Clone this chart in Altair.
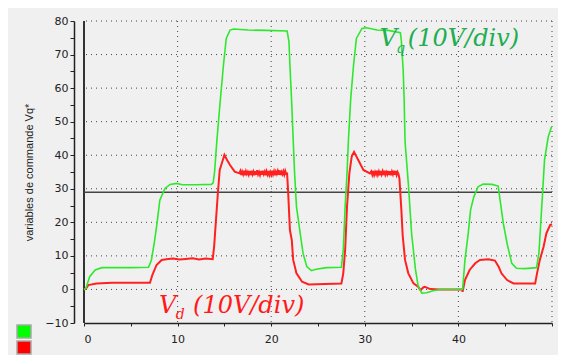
import altair as alt
import pandas as pd
import numpy as np

# ---- Vq (green) : time (s) and value
vq_t = [0.0, 0.2, 0.6, 1.2, 1.9, 3.0, 5.0, 6.9, 7.2, 7.5, 7.8, 8.1, 8.65, 9.2, 9.9, 10.5, 12.0, 13.6,
        13.8, 13.95, 14.07, 14.2, 14.55, 14.9, 15.2, 15.6, 16.0, 17.5, 19.5, 21.7, 21.9, 22.0, 22.2,
        22.35, 22.5, 22.7, 23.1, 23.4, 23.8, 24.3, 24.8, 25.9, 27.5, 27.7, 27.9, 28.1, 28.25, 28.5,
        28.8, 29.1, 29.7, 30.2, 31.3, 32.5, 33.8, 33.9, 34.1, 34.2, 34.3, 34.65, 35.0, 35.4, 35.7,
        36.1, 36.6, 37.3, 38.0, 40.45, 40.7, 41.05, 41.3, 41.65, 42.1, 42.65, 43.6, 44.25, 44.45,
        44.8, 45.2, 45.7, 46.2, 47.1, 48.35, 48.6, 48.95, 49.2, 49.6, 49.95]
vq_v = [0.0, 0.3, 3.8, 5.8, 6.5, 6.5, 6.5, 6.6, 8.8, 13.7, 19.7, 26.6, 30.1, 31.3, 31.6, 31.2, 31.2, 31.3,
        31.8, 35.0, 39.6, 44.5, 56.0, 66.9, 74.8, 77.3, 77.6, 77.3, 77.2, 77.0, 73.8, 66.9, 55.0,
        44.5, 34.6, 24.7, 16.7, 10.8, 6.8, 5.6, 6.0, 6.5, 6.6, 11.8, 24.7, 34.6, 44.5, 57.0,
        66.9, 74.8, 77.8, 78.0, 77.3, 77.2, 76.5, 74.3, 65.4, 57.0, 44.0, 31.6, 16.7, 6.2, 1.0,
        -1.1, -1.0, -0.4, 0.0, 0.0, 8.8, 16.7, 23.7, 27.6, 30.6, 31.4, 31.3, 30.8, 26.7,
        19.7, 13.7, 7.8, 6.3, 6.2, 6.5, 10.8, 26.7, 38.6, 45.5, 48.5]

# ---- Vd (red) : transitions
vd_t = [0.0, 0.2, 0.46, 1.35, 3.0, 7.05, 7.3, 7.75, 8.3, 8.8, 9.5, 10.2, 10.9, 11.6, 12.3, 13.0, 13.75,
        13.9, 14.1, 14.3, 14.5, 14.8, 15.0, 15.3, 15.6, 16.1, 16.6,
        21.7, 21.8, 22.0, 22.2, 22.35, 22.7, 23.3, 24.0, 27.5, 27.7, 27.9, 28.1, 28.35, 28.6,
        28.85, 29.3, 29.85, 30.55,
        33.7, 33.9, 34.05, 34.3, 34.65, 35.2, 35.7, 35.95, 36.25, 36.4, 37.0, 38.0, 40.4, 40.45,
        40.7, 41.2, 41.8, 42.3, 43.2, 43.9, 44.3, 44.6, 45.2, 45.9, 48.2, 48.4, 48.7, 49.1, 49.4,
        49.8, 50.0]
vd_v = [0.0, 0.2, 1.3, 1.8, 2.0, 2.0, 4.3, 7.3, 8.8, 9.0, 9.2, 8.9, 9.1, 9.3, 8.9, 9.2, 9.0,
        12.7, 20.7, 28.6, 35.6, 38.3, 40.1, 38.5, 37.1, 35.1, 34.6,
        34.5, 29.6, 17.7, 14.7, 8.8, 4.8, 2.3, 1.5, 1.8, 4.8, 11.8, 24.7, 34.6, 39.6,
        41.0, 38.6, 35.6, 34.6,
        33.0, 24.0, 16.0, 8.8, 4.8, 1.8, 0.8, -0.2, 0.6, 0.8, 0.1, 0.0, 0.0, -0.7,
        2.8, 5.8, 7.8, 8.8, 9.0, 8.6, 6.8, 4.8, 2.8, 1.8, 1.8, 4.8, 8.8, 12.7, 16.7,
        19.2, 19.5]

# noisy plateaus of Vd (sampled every 0.1 s)
vd_plateau1_start = 16.7
vd_plateau1 = [35.3, 34.1, 35.1, 34.3, 35.4, 34.0, 35.2, 34.4, 35.0, 34.2,
               35.3, 34.1, 35.4, 34.3, 35.1, 34.0, 35.2, 34.2, 35.5, 34.3,
               35.0, 34.1, 35.3, 34.2, 35.4, 34.4, 35.1, 34.0, 35.2, 34.3,
               35.3, 34.1, 35.0, 34.2, 35.4, 34.3, 35.2, 34.0, 35.1, 34.4,
               35.3, 34.2, 35.5, 34.1, 35.0, 34.3, 35.2, 34.2, 35.3, 34.4]
vd_plateau2_start = 30.7
vd_plateau2 = [35.2, 34.2, 35.3, 34.1, 35.0, 34.3, 35.4, 34.2, 35.1, 34.0,
               35.3, 34.3, 35.2, 34.1, 35.4, 34.2, 35.0, 34.3, 35.3, 34.1,
               35.2, 34.0, 35.1, 34.3, 35.4, 34.2, 35.3, 34.1, 35.0, 34.4]

grid_y = [0, 10, 20, 30, 40, 50, 60, 70, 80]
grid_x = [10, 20, 30, 40, 50]
ref_level = [29.0]
x_ticks = list(range(0, 51, 5))
y_ticks = list(range(-10, 81, 5))

# annotation pieces
anno_q = pd.DataFrame({"t": [31.6, 33.35, 34.6], "v": [72.6, 70.4, 72.6], "txt": ["V", "q", "(10V/div)"], "s": [24, 14, 24]})
anno_d = pd.DataFrame({"t": [8.0, 9.8, 11.65], "v": [-7.0, -8.8, -7.0], "txt": ["V", "d", "(10V/div)"], "s": [24, 14, 24]})

# ---- build tables
vd_pt = list(vd_t)
vd_pv = list(vd_v)
for start, vals in ((vd_plateau1_start, vd_plateau1), (vd_plateau2_start, vd_plateau2)):
    for i, val in enumerate(vals):
        vd_pt.append(round(start + 0.1 * i, 2))
        vd_pv.append(val)
vd = pd.DataFrame({"t": vd_pt, "v": vd_pv}).sort_values("t").reset_index(drop=True)
vd["i"] = range(len(vd))
vq = pd.DataFrame({"t": vq_t, "v": vq_v})
vq["i"] = range(len(vq))

xs = alt.Scale(domain=[0, 50], nice=False, zero=False)
ys = alt.Scale(domain=[-10, 80], nice=False, zero=False)

FONT = "DejaVu Sans"

x_axis = alt.Axis(values=x_ticks, labelExpr="datum.value % 10 == 0 && datum.value < 50 ? datum.label : ''",
                  grid=False, domainColor="#222", domainWidth=1.5, tickColor="#222", tickSize=3,
                  labelFont=FONT, labelFontSize=11, labelColor="#222", labelPadding=7, title=None)
y_axis = alt.Axis(values=y_ticks, labelExpr="datum.value % 10 == 0 ? datum.label : ''",
                  grid=False, offset=10, domainColor="#222", domainWidth=1.5, tickColor="#222", tickSize=4,
                  labelFont=FONT, labelFontSize=11, labelColor="#222", labelPadding=2,
                  title="variables de commande Vq*", titleFont="Liberation Sans", titleFontSize=11,
                  titleFontWeight="normal", titleColor="#222", titlePadding=10)


def X(f):
    return alt.X(f, type="quantitative", scale=xs, axis=x_axis)


def Y(f):
    return alt.Y(f, type="quantitative", scale=ys, axis=y_axis)


hgrid = alt.Chart(pd.DataFrame({"y": grid_y})).mark_rule(strokeDash=[1, 4], color="#444", strokeWidth=1).encode(
    y=Y("y"))
vgrid = alt.Chart(pd.DataFrame({"x": grid_x})).mark_rule(strokeDash=[1, 4], color="#444", strokeWidth=1).encode(
    x=X("x"))
zero_line = alt.Chart(pd.DataFrame({"x": [0]})).mark_rule(color="#333", strokeWidth=2).encode(x=X("x"))
level = alt.Chart(pd.DataFrame({"y": ref_level})).mark_rule(color="#444", strokeWidth=1.5).encode(y=Y("y"))

red = alt.Chart(vd).mark_line(color="#ff2020", strokeWidth=2).encode(x=X("t"), y=Y("v"), order="i:Q")
green = alt.Chart(vq).mark_line(color="#2ee82e", strokeWidth=1.6).encode(x=X("t"), y=Y("v"), order="i:Q")


def anno(df, color):
    return alt.Chart(df).mark_text(font="DejaVu Serif", fontStyle="italic", align="left",
                                   baseline="alphabetic", color=color).encode(
        x=X("t"), y=Y("v"), text="txt:N", size=alt.Size("s:Q", scale=None, legend=None))


tq = anno(anno_q, "#1fae50")
td = anno(anno_d, "#ff1a1a")

sq_green = alt.Chart(pd.DataFrame({"k": ["Vq"]})).mark_rect(fill="#00ff00", stroke="#a8a8a8", strokeWidth=1.5).encode(
    x=alt.value(-67), x2=alt.value(-53), y=alt.value(304), y2=alt.value(317))
sq_red = alt.Chart(pd.DataFrame({"k": ["Vd"]})).mark_rect(fill="#ff0000", stroke="#a8a8a8", strokeWidth=1.5).encode(
    x=alt.value(-67), x2=alt.value(-53), y=alt.value(320), y2=alt.value(333))

chart = alt.layer(hgrid, vgrid, zero_line, level, red, green, tq, td, sq_green, sq_red).properties(
    width=468, height=302,
    autosize=alt.AutoSizeParams(type="none"),
    padding={"left": 76, "top": 13, "right": 6, "bottom": 32},
    background="#f0f0f0",
).configure_view(stroke=None)

chart.save("out.html", embed_options={"renderer": "svg", "actions": False})
